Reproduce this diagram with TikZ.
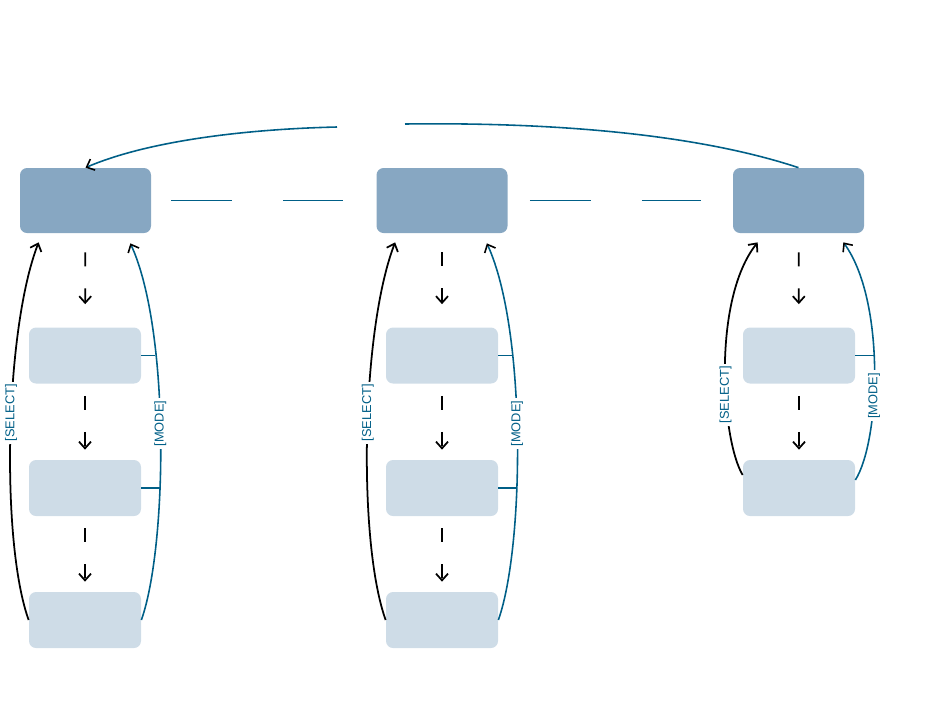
\documentclass[tikz,border=0pt]{standalone}
\usepackage{fontspec}
\setmainfont{Liberation Sans}
\usetikzlibrary{arrows.meta}
\definecolor{statefill}{HTML}{87A7C2}
\definecolor{subfill}{HTML}{CEDCE7}
\definecolor{linkblue}{HTML}{005F87}
\tikzset{
 state/.style={fill=statefill,rounded corners=4pt,minimum width=2.62cm,minimum height=1.3cm,inner sep=0pt},
 substate/.style={fill=subfill,rounded corners=4pt,minimum width=2.24cm,minimum height=1.12cm,inner sep=0pt},
 tip/.style={-{Straight Barb[length=3.8pt,width=6.8pt,color=black]}},
 flow/.style={black,line width=1pt,dash pattern=on 0.28cm off 0.44cm,tip},
 back/.style={black,line width=1pt,tip},
 link/.style={linkblue,line width=0.9pt},
 lbl/.style={fill=white,text=linkblue,font=\fontsize{7.3}{8}\selectfont,rotate=90,inner sep=1.5pt}
}
\begin{document}
\begin{tikzpicture}
\useasboundingbox (0,0) rectangle (19,-14.48);
%states
\node[state] (s1) at (1.71,-4.01) {};
\node[state] (s2) at (8.84,-4.01) {};
\node[state] (s3) at (15.97,-4.01) {};
%substates
\node[substate] (s11) at (1.70,-7.11) {};
\node[substate] (s12) at (1.70,-9.76) {};
\node[substate] (s13) at (1.70,-12.40) {};
\node[substate] (s21) at (8.84,-7.11) {};
\node[substate] (s22) at (8.84,-9.76) {};
\node[substate] (s23) at (8.84,-12.40) {};
\node[substate] (s31) at (15.98,-7.11) {};
\node[substate] (s32) at (15.98,-9.76) {};
%top row
\draw[link,dash pattern=on 1.22cm off 1.02cm,shorten <=0.4cm,shorten >=0.66cm] (s1) -- (s2);
\draw[link,dash pattern=on 1.22cm off 1.02cm,shorten <=0.44cm,shorten >=0.64cm] (s2) -- (s3);
\coordinate (gl) at (6.74,-2.54);
\coordinate (gr) at (8.10,-2.48);
\draw[link] (s3.north) .. controls (14,-2.7) and (11.2,-2.44) .. (gr);
\draw[link,tip] (gl) .. controls (5,-2.58) and (3,-2.8) .. (s1.north);
%steps down
\draw[flow,shorten <=0.38cm,shorten >=0.46cm] (s1) -- (s11);
\draw[flow,shorten <=0.24cm,shorten >=0.2cm] (s11) -- (s12);
\draw[flow,shorten <=0.24cm,shorten >=0.2cm] (s12) -- (s13);
\draw[flow,shorten <=0.38cm,shorten >=0.46cm] (s2) -- (s21);
\draw[flow,shorten <=0.24cm,shorten >=0.2cm] (s21) -- (s22);
\draw[flow,shorten <=0.24cm,shorten >=0.2cm] (s22) -- (s23);
\draw[flow,shorten <=0.38cm,shorten >=0.46cm] (s3) -- (s31);
\draw[flow,shorten <=0.24cm,shorten >=0.2cm] (s31) -- (s32);
%first column
\draw[back] (s13.west) .. controls +(-0.56,1.56) and +(-0.68,-1.76) .. ([xshift=0.38cm,yshift=-0.18cm]s1.south west) node[lbl,pos=0.55]{[SELECT]};
\draw[link,tip] (s13.east) .. controls +(0.52,1.46) and +(0.8,-1.74) .. ([xshift=-0.42cm,yshift=-0.2cm]s1.south east) node[lbl,pos=0.53]{[MODE]};
\coordinate (j11) at (3.10,-7.11);
\coordinate (j12) at (3.19,-9.76);
\draw[link] (s11) -- (j11);
\draw[link] (s12) -- (j12);
%second column
\draw[back] (s23.west) .. controls +(-0.56,1.56) and +(-0.68,-1.76) .. ([xshift=0.38cm,yshift=-0.18cm]s2.south west) node[lbl,pos=0.55]{[SELECT]};
\draw[link,tip] (s23.east) .. controls +(0.52,1.46) and +(0.8,-1.74) .. ([xshift=-0.42cm,yshift=-0.2cm]s2.south east) node[lbl,pos=0.53]{[MODE]};
\coordinate (j21) at (10.24,-7.11);
\coordinate (j22) at (10.33,-9.76);
\draw[link] (s21) -- (j21);
\draw[link] (s22) -- (j22);
%third column
\draw[back] ([yshift=0.26cm]s32.west) .. controls +(-0.42,0.7) and +(-0.92,-1.16) .. ([xshift=0.5cm,yshift=-0.18cm]s3.south west) node[lbl,pos=0.4]{[SELECT]};
\draw[link,tip] ([yshift=0.16cm]s32.east) .. controls +(0.5,0.8) and +(0.84,-1.16) .. ([xshift=-0.42cm,yshift=-0.18cm]s3.south east) node[lbl,pos=0.4]{[MODE]};
\coordinate (j31) at (17.47,-7.11);
\draw[link] (s31) -- (j31);
\end{tikzpicture}
\end{document}
